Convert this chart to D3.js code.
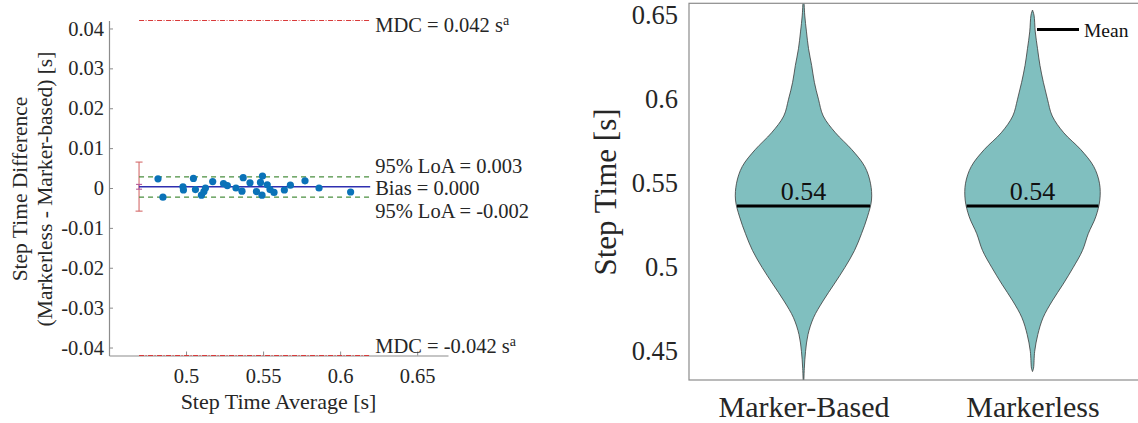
<!DOCTYPE html>
<html>
<head>
<meta charset="utf-8">
<script src="https://cdn.jsdelivr.net/npm/d3@7"></script>
<style>
  html, body { margin: 0; padding: 0; background: #fff; }
  svg { display: block; }
</style>
</head>
<body>
<svg id="chart" width="1138" height="423"></svg>
<script>
// ---- Bland-Altman data: step time (average vs difference, seconds) ----
const stepAvg = [0.4818, 0.4850, 0.4980, 0.4983, 0.5048, 0.5061, 0.5100, 0.5116, 0.5126, 0.5173,
                 0.5243, 0.5268, 0.5324, 0.5363, 0.5371, 0.5415, 0.5457, 0.5483, 0.5496, 0.5493,
                 0.5527, 0.5545, 0.5571, 0.5638, 0.5677, 0.5772, 0.5863, 0.6068];
const stepDiff = [0.0023, -0.0023, 0.0003, -0.0005, 0.0024, -0.0004, -0.0018, -0.0009, 0.0000, 0.0016,
                  0.0011, 0.0006, 0.0000, -0.0008, 0.0026, 0.0013, -0.0009, 0.0014, 0.0030, -0.0018,
                  0.0008, -0.0004, -0.0011, -0.0005, 0.0007, 0.0018, 0.0000, -0.0010];
const bias = 0.0003;
const loaUpper = 0.0028;
const loaLower = -0.0023;
const mdc = 0.042;
const refSpan = [0.4695, 0.6195];            // extent of the reference lines along x
const errorBars = [
  { lo: -0.0058, hi: 0.0065, kind: "wide" },
  { lo: -0.0003, hi: 0.0009, kind: "narrow" }
];
const baXTicks = [0.5, 0.55, 0.6, 0.65];
const baYTicks = [-0.04, -0.03, -0.02, -0.01, 0, 0.01, 0.02, 0.03, 0.04];

// ---- Violin data: step time density profiles (relative density) ----
const violinCategories = ["Marker-Based", "Markerless"];
const violinMeans = [0.5365, 0.5365];
const markerBasedTime = [0.43, 0.44, 0.45, 0.46, 0.47, 0.48, 0.49, 0.50, 0.51, 0.52, 0.53, 0.54,
                         0.55, 0.56, 0.57, 0.58, 0.59, 0.60, 0.61, 0.62, 0.63, 0.64, 0.65, 0.66];
const markerBasedDensity = [0.003, 0.012, 0.03, 0.066, 0.147, 0.287, 0.45, 0.61, 0.75, 0.853, 0.94, 1.00,
                            0.985, 0.90, 0.71, 0.47, 0.29, 0.22, 0.16, 0.12, 0.074, 0.044, 0.018, 0.006];
const markerlessTime = [0.438, 0.44, 0.45, 0.46, 0.47, 0.48, 0.49, 0.50, 0.51, 0.52, 0.53, 0.54,
                        0.55, 0.56, 0.57, 0.58, 0.59, 0.60, 0.61, 0.62, 0.63, 0.64, 0.65, 0.653];
const markerlessDensity = [0.0, 0.015, 0.032, 0.078, 0.155, 0.29, 0.45, 0.60, 0.735, 0.82, 0.93, 0.99,
                           0.985, 0.90, 0.71, 0.46, 0.29, 0.22, 0.16, 0.11, 0.074, 0.041, 0.022, 0.0];
const violinYTicks = [0.45, 0.5, 0.55, 0.6, 0.65];

const svg = d3.select("#chart");
const serif = "'Liberation Serif', 'Times New Roman', Times, serif";
const textColor = "#262626";
const axisColor = "#8c8c8c";

// ================= Left: Bland-Altman plot =================
const x = d3.scaleLinear().domain([0.45, 0.67]).range([109, 448]);
const y = d3.scaleLinear().domain([-0.042, 0.042]).range([355.5, 20.5]);
const left = svg.append("g");

function styleAxis(g, size) {
  g.attr("font-family", serif).attr("font-size", size);
  g.select(".domain").attr("stroke", axisColor).attr("stroke-width", 1.2);
  g.selectAll(".tick line").attr("stroke", axisColor);
  g.selectAll(".tick text").attr("fill", textColor);
}

left.append("g")
  .attr("transform", `translate(${x.range()[0]},0)`)
  .call(d3.axisLeft(y).tickValues(baYTicks).tickSizeInner(-4).tickSizeOuter(0).tickPadding(5)
        .tickFormat(d => d === 0 ? "0" : d.toFixed(2)))
  .call(g => styleAxis(g, 20.5));

left.append("g")
  .attr("transform", `translate(0,${y.range()[0]})`)
  .call(d3.axisBottom(x).tickValues(baXTicks).tickSizeInner(-4).tickSizeOuter(0).tickPadding(12.5)
        .tickFormat(d => String(d)))
  .call(g => styleAxis(g, 20.5));

// error bars at the left end of the reference lines
const ebX = x(refSpan[0]);
errorBars.forEach(e => {
  const col = e.kind === "wide" ? "#d46a6a" : "#b65c9a";
  const half = e.kind === "wide" ? 3.5 : 3;
  const g = left.append("g").attr("stroke", col).attr("stroke-width", 1.1);
  g.append("line").attr("x1", ebX).attr("x2", ebX).attr("y1", y(e.lo)).attr("y2", y(e.hi));
  g.append("line").attr("x1", ebX - half).attr("x2", ebX + half).attr("y1", y(e.lo)).attr("y2", y(e.lo));
  g.append("line").attr("x1", ebX - half).attr("x2", ebX + half).attr("y1", y(e.hi)).attr("y2", y(e.hi));
});

// MDC lines
[mdc, -mdc].forEach(v => {
  left.append("line")
    .attr("x1", x(refSpan[0])).attr("x2", x(refSpan[1]))
    .attr("y1", y(v)).attr("y2", y(v))
    .attr("stroke", "#d93a3a").attr("stroke-width", 1.2)
    .attr("stroke-dasharray", "5,1.5,1,1.5");
});

// limits of agreement
[loaUpper, loaLower].forEach(v => {
  left.append("line")
    .attr("x1", x(refSpan[0])).attr("x2", x(refSpan[1]))
    .attr("y1", y(v)).attr("y2", y(v))
    .attr("stroke", "#4a8f3f").attr("stroke-width", 1.4)
    .attr("stroke-dasharray", "5,4");
});

// bias line
left.append("line")
  .attr("x1", x(refSpan[0])).attr("x2", x(refSpan[1]))
  .attr("y1", y(bias)).attr("y2", y(bias))
  .attr("stroke", "#2f2fb0").attr("stroke-width", 1.4);

// points
left.append("g").selectAll("circle")
  .data(stepAvg.map((a, i) => ({ a, d: stepDiff[i] })))
  .join("circle")
  .attr("cx", d => x(d.a)).attr("cy", d => y(d.d)).attr("r", 3.6)
  .attr("fill", "#0a72b8");

// annotations
const f3 = v => (Math.abs(v) < 0.0005 ? 0 : v).toFixed(3);
const annX = x(refSpan[1]) + 5;
function mdcLabel(v, baseY) {
  const t = left.append("text").attr("x", annX).attr("y", baseY)
    .attr("fill", textColor).attr("font-size", 20.5);
  t.append("tspan").text(`MDC = ${f3(v)} s`);
  t.append("tspan").attr("dy", -7).attr("font-size", 14).text("a");
}
mdcLabel(mdc, y(mdc) + 11.5);
mdcLabel(-mdc, y(-mdc) - 2.5);

left.append("text").attr("x", annX).attr("y", y(loaUpper) - 3.5)
  .attr("fill", textColor).attr("font-size", 20.5)
  .text(`95% LoA = ${f3(loaUpper)}`);
left.append("text").attr("x", annX).attr("y", y(bias) + 8)
  .attr("fill", textColor).attr("font-size", 20.5)
  .text(`Bias = ${f3(bias)}`);
left.append("text").attr("x", annX).attr("y", y(loaLower) + 20.5)
  .attr("fill", textColor).attr("font-size", 20.5)
  .text(`95% LoA = ${f3(loaLower)}`);

// axis titles
left.append("text")
  .attr("transform", `translate(27,189) rotate(-90)`)
  .attr("text-anchor", "middle").attr("fill", textColor).attr("font-size", 21.5)
  .text("Step Time Difference");
left.append("text")
  .attr("transform", `translate(52,189) rotate(-90)`)
  .attr("text-anchor", "middle").attr("fill", textColor).attr("font-size", 21.5)
  .text("(Markerless - Marker-based) [s]");
left.append("text")
  .attr("x", 278.5).attr("y", 409)
  .attr("text-anchor", "middle").attr("fill", textColor).attr("font-size", 22)
  .text("Step Time Average [s]");

// ================= Right: violin plot =================
const yR = d3.scaleLinear().domain([0.433, 0.657]).range([380, 3.3]);
const xR = d3.scalePoint().domain(violinCategories).range([689, 1147]).padding(0.5);
const wR = d3.scaleLinear().domain([0, 1]).range([0, 68]);
const right = svg.append("g");

svg.append("defs").append("clipPath").attr("id", "frameClip")
  .append("rect").attr("x", 689).attr("y", 3.3).attr("width", 458).attr("height", 376.7);

const profiles = [
  markerBasedTime.map((t, i) => ({ t, d: markerBasedDensity[i] })),
  markerlessTime.map((t, i) => ({ t, d: markerlessDensity[i] }))
];

function densityAt(profile, t) {
  for (let i = 0; i < profile.length - 1; i++) {
    const a = profile[i], b = profile[i + 1];
    if (t >= a.t && t <= b.t) return a.d + (b.d - a.d) * (t - a.t) / (b.t - a.t);
  }
  return 0;
}

const violins = right.append("g").attr("clip-path", "url(#frameClip)");
violinCategories.forEach((cat, i) => {
  const cx = xR(cat);
  const area = d3.area()
    .curve(d3.curveCatmullRom.alpha(0.5))
    .y(d => yR(d.t))
    .x0(d => cx - wR(Math.max(0, d.d)))
    .x1(d => cx + wR(Math.max(0, d.d)));
  violins.append("path")
    .datum(profiles[i])
    .attr("d", area)
    .attr("fill", "#80bfbf")
    .attr("stroke", "#3a3a3a").attr("stroke-width", 0.8);

  const m = violinMeans[i];
  const hw = wR(densityAt(profiles[i], m));
  violins.append("line")
    .attr("x1", cx - hw).attr("x2", cx + hw)
    .attr("y1", yR(m)).attr("y2", yR(m))
    .attr("stroke", "#000").attr("stroke-width", 3);
  right.append("text")
    .attr("x", cx).attr("y", yR(m) - 6)
    .attr("text-anchor", "middle").attr("fill", "#111").attr("font-size", 26)
    .text(m.toFixed(2));
});

// frame
right.append("rect")
  .attr("x", 689).attr("y", 3.3).attr("width", 458).attr("height", 376.7)
  .attr("fill", "none").attr("stroke", axisColor).attr("stroke-width", 1.2);

right.append("g")
  .attr("transform", "translate(689,0)")
  .call(d3.axisLeft(yR).tickValues(violinYTicks).tickSize(0).tickPadding(11)
        .tickFormat(d => String(d)))
  .call(g => { g.select(".domain").remove(); styleAxis(g, 26.5); });

right.append("g")
  .attr("transform", "translate(0,380)")
  .call(d3.axisBottom(xR).tickSize(0).tickPadding(15.5))
  .call(g => { g.select(".domain").remove(); styleAxis(g, 30); });

right.append("text")
  .attr("transform", "translate(616,192) rotate(-90)")
  .attr("text-anchor", "middle").attr("fill", textColor).attr("font-size", 31)
  .text("Step Time [s]");

// legend
right.append("line")
  .attr("x1", 1037).attr("x2", 1079).attr("y1", 29.5).attr("y2", 29.5)
  .attr("stroke", "#000").attr("stroke-width", 3);
right.append("text")
  .attr("x", 1084).attr("y", 36.5).attr("fill", "#111").attr("font-size", 19.5)
  .text("Mean");

// one serif family for every label
svg.selectAll("text").style("font-family", serif);
</script>
</body>
</html>
